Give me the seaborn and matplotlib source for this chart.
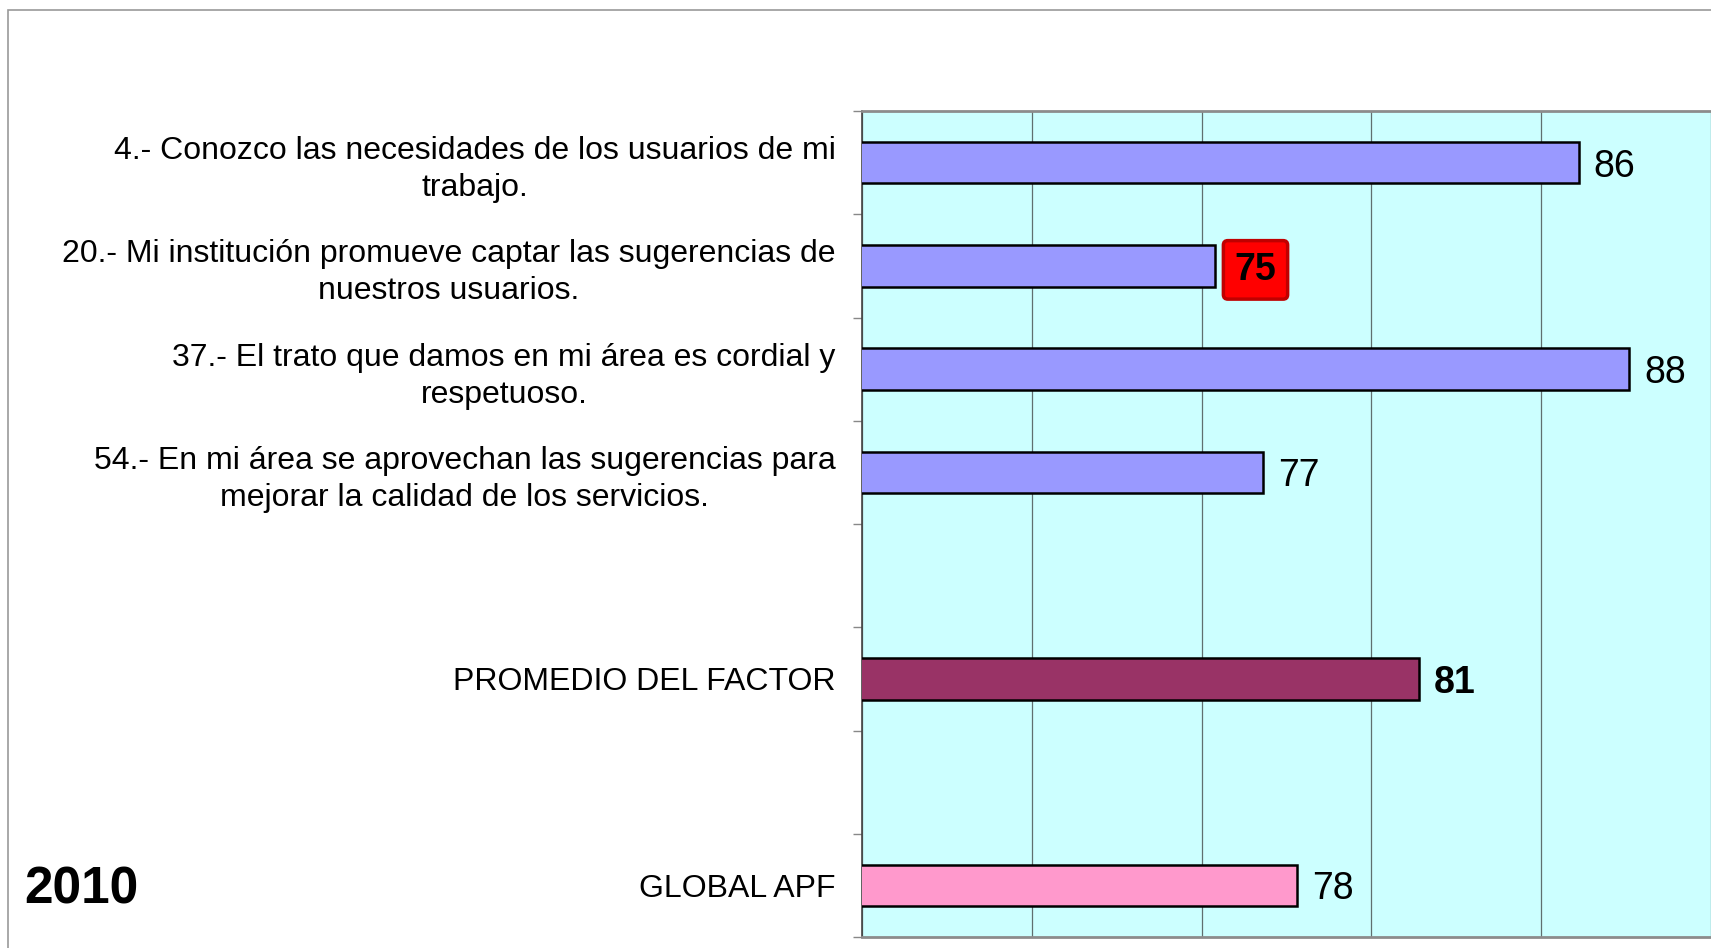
import pandas as pd
import matplotlib.pyplot as plt
import matplotlib.patches as mpatches
import seaborn as sns

# ── Datos ────────────────────────────────────────────────────────────────────
reactivos = [
    "4.- Conozco las necesidades de los usuarios de mi\ntrabajo.",
    "20.- Mi institución promueve captar las sugerencias de\nnuestros usuarios.",
    "37.- El trato que damos en mi área es cordial y\nrespetuoso.",
    "54.- En mi área se aprovechan las sugerencias para\nmejorar la calidad de los servicios.",
]
valores_reactivos = [86.1, 75.4, 87.6, 76.8]
promedio_factor = 81.4
global_apf = 77.8
anio = "2010"

etiquetas = reactivos + ["PROMEDIO DEL FACTOR", "GLOBAL APF"]
valores = valores_reactivos + [promedio_factor, global_apf]
# huecos vacíos entre grupos, como en el original
orden = reactivos + [" ", "PROMEDIO DEL FACTOR", "  ", "GLOBAL APF"]

COLORES = {e: "#9999FF" for e in reactivos}
COLORES["PROMEDIO DEL FACTOR"] = "#993366"
COLORES["GLOBAL APF"] = "#FF99CC"

df = pd.DataFrame({"etiqueta": etiquetas, "valor": valores})

# ── Estilo ───────────────────────────────────────────────────────────────────
sns.set_theme(style="white")
plt.rcParams["font.family"] = ["Liberation Sans", "DejaVu Sans"]
plt.rcParams["text.color"] = "black"
plt.rcParams["ytick.color"] = "black"

fig = plt.figure(figsize=(17.11, 9.48), dpi=100)
ax = fig.add_axes([862 / 1711, 1 - 937 / 948, 1 - 862 / 1711, (937 - 111) / 948])
ax.set_facecolor("#CCFFFF")

sns.barplot(data=df, y="etiqueta", x="valor", hue="etiqueta", order=orden,
            palette=COLORES, saturation=1, legend=False, width=0.4,
            edgecolor="black", linewidth=1.8, orient="h", ax=ax, zorder=3)

ax.set_xlim(65, 90)
ax.set_xticks([65, 70, 75, 80, 85, 90])
ax.tick_params(axis="x", length=0, labelbottom=False)
ax.grid(axis="x", color="#5F6F6F", lw=0.9, zorder=0)
ax.grid(axis="y", visible=False)

ax.set_ylim(len(orden) - 0.5, -0.5)
ax.set_yticks(range(len(orden)))
ax.set_yticklabels(orden, fontsize=23, multialignment="center", linespacing=1.3,
                   color="black")
ax.tick_params(axis="y", which="major", length=0, pad=19)
ax.set_yticks([i - 0.5 for i in range(len(orden) + 1)], minor=True)
ax.tick_params(axis="y", which="minor", length=6.5, width=1, color="#888888", left=True)
ax.set_xlabel("")
ax.set_ylabel("")

for lado in ["top", "bottom"]:
    ax.spines[lado].set_color("#8C8C8C")
    ax.spines[lado].set_linewidth(2)
ax.spines["left"].set_color("#444444")
ax.spines["left"].set_linewidth(1.2)
ax.spines["right"].set_visible(False)

# ── Etiquetas de valor ───────────────────────────────────────────────────────
for etq, val in zip(etiquetas, valores):
    pos = orden.index(etq)
    txt = f"{val:.0f}"
    if val == min(valores):
        ax.annotate(txt, (val, pos), xytext=(14, 0), textcoords="offset points",
                    va="center_baseline", ha="left", fontsize=27, fontweight="bold",
                    bbox=dict(boxstyle="round,pad=0.3,rounding_size=0.12",
                              fc="#FF0000", ec="#C00000", lw=2.5), zorder=5)
    elif etq == "PROMEDIO DEL FACTOR":
        ax.annotate(txt, (val, pos), xytext=(11, 0), textcoords="offset points",
                    va="center_baseline", ha="left", fontsize=27, fontweight="bold",
                    zorder=5)
    else:
        ax.annotate(txt, (val, pos), xytext=(11, 0), textcoords="offset points",
                    va="center_baseline", ha="left", fontsize=27, zorder=5)

fig.text(24 / 1711, 1 - 903 / 948, anio, fontsize=37, fontweight="bold",
         ha="left", va="baseline")

# marco gris del área de gráfico
fig.patches.append(mpatches.Rectangle((8 / 1711, -0.05), 1.2, 1 - 10 / 948 + 0.05,
                                      transform=fig.transFigure, fill=False,
                                      ec="#9A9A9A", lw=1.2, zorder=0))

plt.savefig("out.png", dpi=100)
plt.close()
